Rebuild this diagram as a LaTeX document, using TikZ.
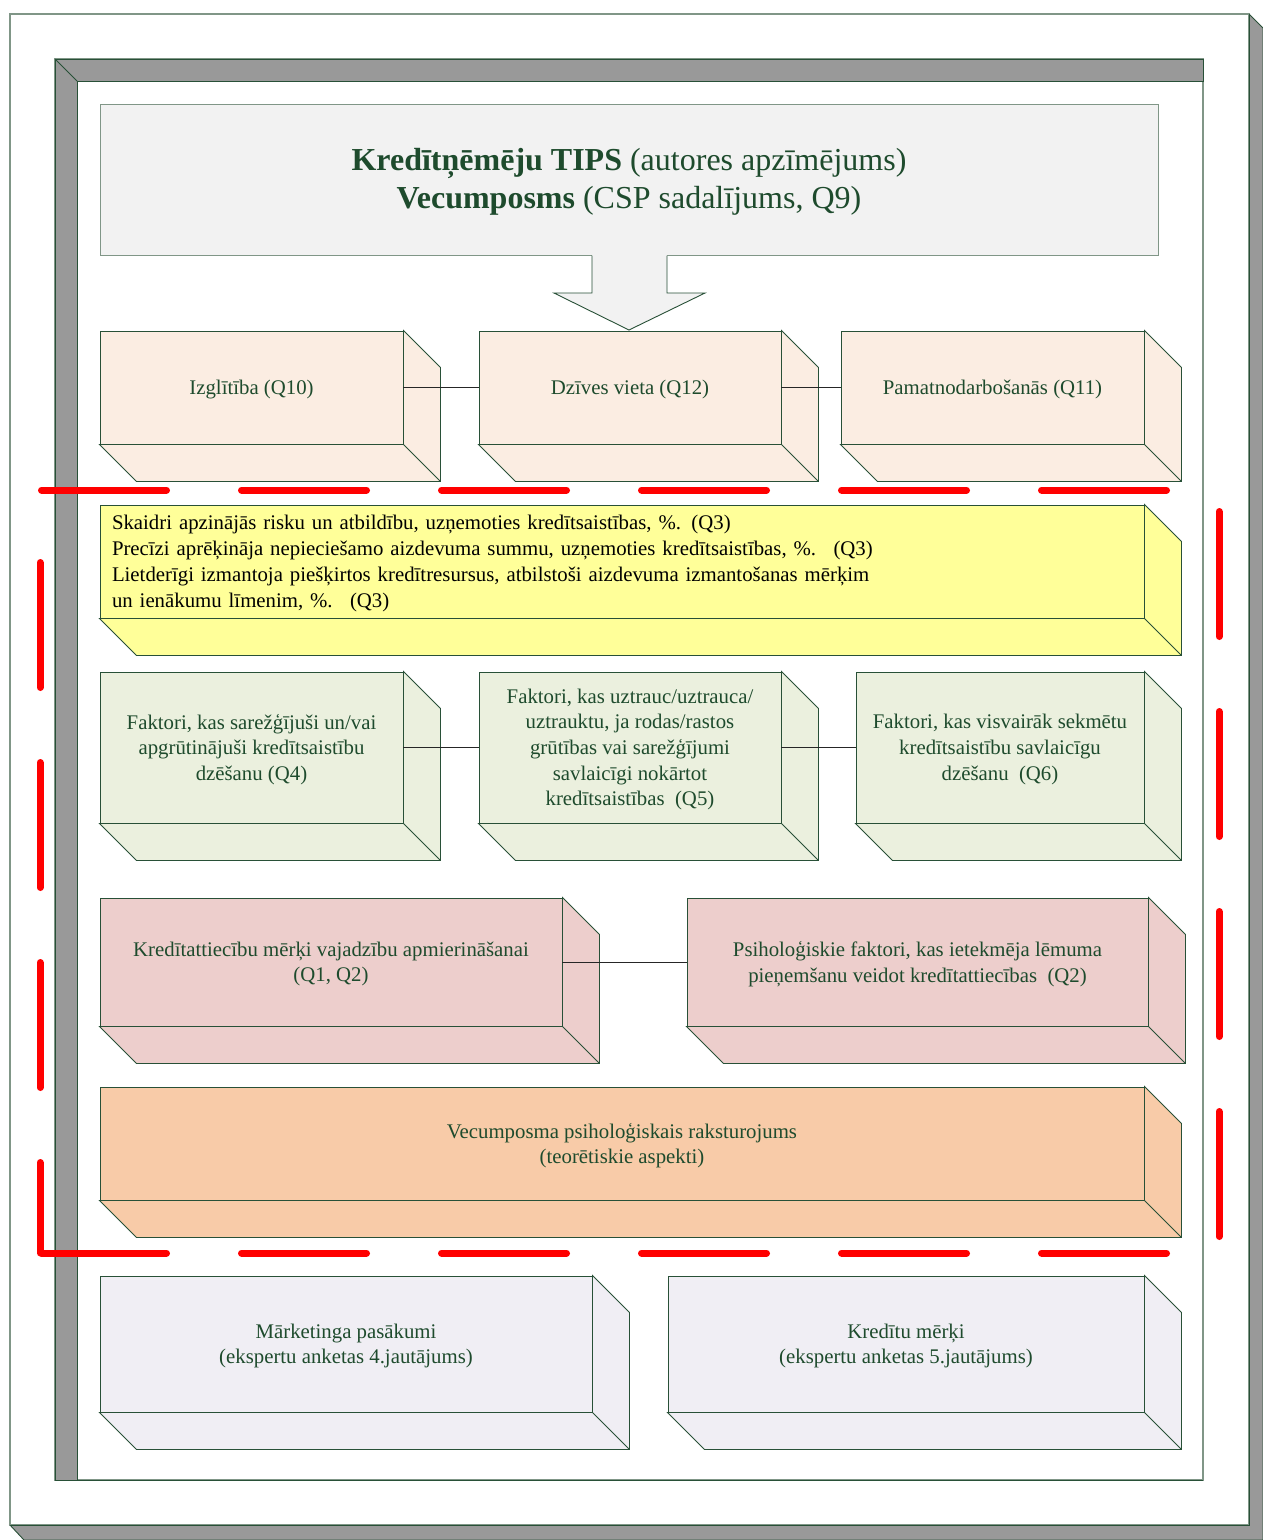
\documentclass[tikz,border=0pt]{standalone}
\usepackage{fontspec}
\setmainfont{Liberation Serif}
\definecolor{frameline}{RGB}{40,80,55}
\definecolor{lightline}{RGB}{128,150,135}
\definecolor{txt}{RGB}{30,75,45}
\definecolor{band}{RGB}{153,153,153}
\definecolor{titlefill}{RGB}{242,242,242}
\definecolor{peach}{RGB}{251,237,226}
\definecolor{sage}{RGB}{235,240,222}
\definecolor{lemon}{RGB}{255,255,153}
\definecolor{rose}{RGB}{237,206,204}
\definecolor{apricot}{RGB}{248,203,168}
\definecolor{lilac}{RGB}{240,238,244}
\definecolor{dashred}{RGB}{255,0,0}

% receding faces (depth 37) of a box whose front face is node #1
\newcommand\boxdepth[2]{%
  \filldraw[faceline, fill=#2] (#1.north east) -- ([shift={(37,37)}]#1.north east)
    -- ([shift={(37,37)}]#1.south east) -- ([shift={(37,37)}]#1.south west)
    -- (#1.south west) -- (#1.south east) -- cycle;
  \draw[faceline] (#1.south east) -- ([shift={(37,37)}]#1.south east);
}
% a box: name, centre x, centre y, width, height, fill, text
\newcommand\solidbox[7]{%
  \node[front, fill=#6, minimum width=#4pt, minimum height=#5pt] (#1) at (#2,#3) {};
  \node[boxtext] (#1-text) at ([yshift=-2pt]#1.center) {#7};
  \boxdepth{#1}{#6}
}

\begin{document}
\begin{tikzpicture}[x=1pt,y=-1pt,
  faceline/.style={draw=frameline, line width=0.9pt, line join=miter},
  front/.style={faceline, inner sep=0pt},
  boxtext/.style={inner sep=0pt, text=txt, align=center,
    font=\fontsize{20.8}{25.7}\selectfont},
  link/.style={draw=black!85, line width=0.8pt},
  reddash/.style={draw=dashred, line width=7pt, line cap=round,
    dash pattern=on 125pt off 75pt}]
\useasboundingbox (0,0) rectangle (1263,1540);

% page with its shadow
\filldraw[fill=band, draw=frameline, line width=0.9pt]
  (1249,14) -- (1263,28) -- (1263,1540) -- (24,1540) -- (10,1525) -- (1249,1525) -- cycle;
\filldraw[fill=white, draw=lightline, line width=1.2pt] (10,14) rectangle (1249,1525);
\draw[frameline, line width=1pt] (10,1525) -- (1249,1525) -- (1249,14);

% sunken inner frame
\filldraw[fill=white, draw=lightline, line width=1.2pt] (55,59) rectangle (1203,1480);
\filldraw[fill=band, draw=frameline, line width=0.9pt]
  (55,59) -- (1203,59) -- (1203,81) -- (77,81) -- (77,1480) -- (55,1480) -- cycle;
\draw[frameline, line width=0.9pt] (55,59) -- (77,81);
\draw[frameline, line width=1pt] (55,1480) -- (1203,1480);

% red dashed boundary
\draw[reddash] (41.5,490) -- (1166.5,490);
\draw[reddash] (41.5,1253) -- (1166.5,1253);
\draw[reddash, dash phase=127.5pt] (40,490) -- (40,1253);
\draw[reddash] (1219,511.5) -- (1219,1236.5);

% heading
\node[faceline, draw=lightline, fill=titlefill, inner sep=0pt,
  minimum width=1058pt, minimum height=151pt] (title) at (629,179.5) {};
\node[inner sep=0pt, text=txt, align=center, font=\fontsize{32}{38}\selectfont]
  (title-text) at ([yshift=-2.5pt]title.center)
  {\textbf{Kredītņēmēju TIPS} (autores apzīmējums)\\
   \textbf{Vecumposms} (CSP sadalījums, Q9)};

% block arrow under the heading
\fill[titlefill] (592,253) -- (592,293) -- (554,293) -- (629,330)
  -- (705,293) -- (667,293) -- (667,253) -- cycle;
\draw[faceline] (592,255.5) -- (592,293) -- (554,293) -- (629,330)
  -- (705,293) -- (667,293) -- (667,255.5);

% first row
\solidbox{edu}{251.5}{387.5}{303}{113}{peach}{Izglītība (Q10)}
\solidbox{home}{630}{387.5}{302}{113}{peach}{Dzīves vieta (Q12)}
\solidbox{job}{992.5}{387.5}{303}{113}{peach}{Pamatnodarbošanās (Q11)}

% wide yellow box
\node[front, fill=lemon, minimum width=1044pt, minimum height=113pt] (risk) at (622,561.5) {};
\node[boxtext, text=black, align=left, text width=1020pt] (risk-text) at ([yshift=-2pt]risk.center)
  {Skaidri apzinājās risku un atbildību, uzņemoties kredītsaistības, \%. (Q3)\\
   Precīzi aprēķināja nepieciešamo aizdevuma summu, uzņemoties kredītsaistības, \%.~ (Q3)\\
   Lietderīgi izmantoja piešķirtos kredītresursus, atbilstoši aizdevuma izmantošanas mērķim\\
   un ienākumu līmenim, \%.~ (Q3)};
\boxdepth{risk}{lemon}

% factor row
\solidbox{hard}{251.5}{747.5}{303}{151}{sage}{Faktori, kas sarežģījuši un/vai\\apgrūtinājuši kredītsaistību\\dzēšanu (Q4)}
\solidbox{worry}{630}{747.5}{302}{151}{sage}{Faktori, kas uztrauc/uztrauca/\\uztrauktu, ja rodas/rastos\\grūtības vai sarežģījumi\\savlaicīgi nokārtot\\kredītsaistības~ (Q5)}
\solidbox{help}{1000}{747.5}{288}{151}{sage}{Faktori, kas visvairāk sekmētu\\kredītsaistību savlaicīgu\\dzēšanu~ (Q6)}

% goals row
\solidbox{goals}{331}{962}{462}{128}{rose}{Kredītattiecību mērķi vajadzību apmierināšanai\\(Q1, Q2)}
\solidbox{psych}{917.5}{962}{461}{128}{rose}{Psiholoģiskie faktori, kas ietekmēja lēmuma\\pieņemšanu veidot kredītattiecības~ (Q2)}

% age profile
\solidbox{age}{622}{1143.5}{1044}{113}{apricot}{Vecumposma psiholoģiskais raksturojums\\(teorētiskie aspekti)}

% expert survey row
\solidbox{mkt}{346}{1344}{492}{136}{lilac}{Mārketinga pasākumi\\(ekspertu anketas 4.jautājums)}
\solidbox{aims}{906}{1344}{476}{136}{lilac}{Kredītu mērķi\\(ekspertu anketas 5.jautājums)}

% connectors
\draw[link] (edu.east) -- (home.west);
\draw[link] (home.east) -- (job.west);
\draw[link] (hard.east) -- (worry.west);
\draw[link] (worry.east) -- (help.west);
\draw[link] (goals.east) -- (psych.west);
\end{tikzpicture}
\end{document}
